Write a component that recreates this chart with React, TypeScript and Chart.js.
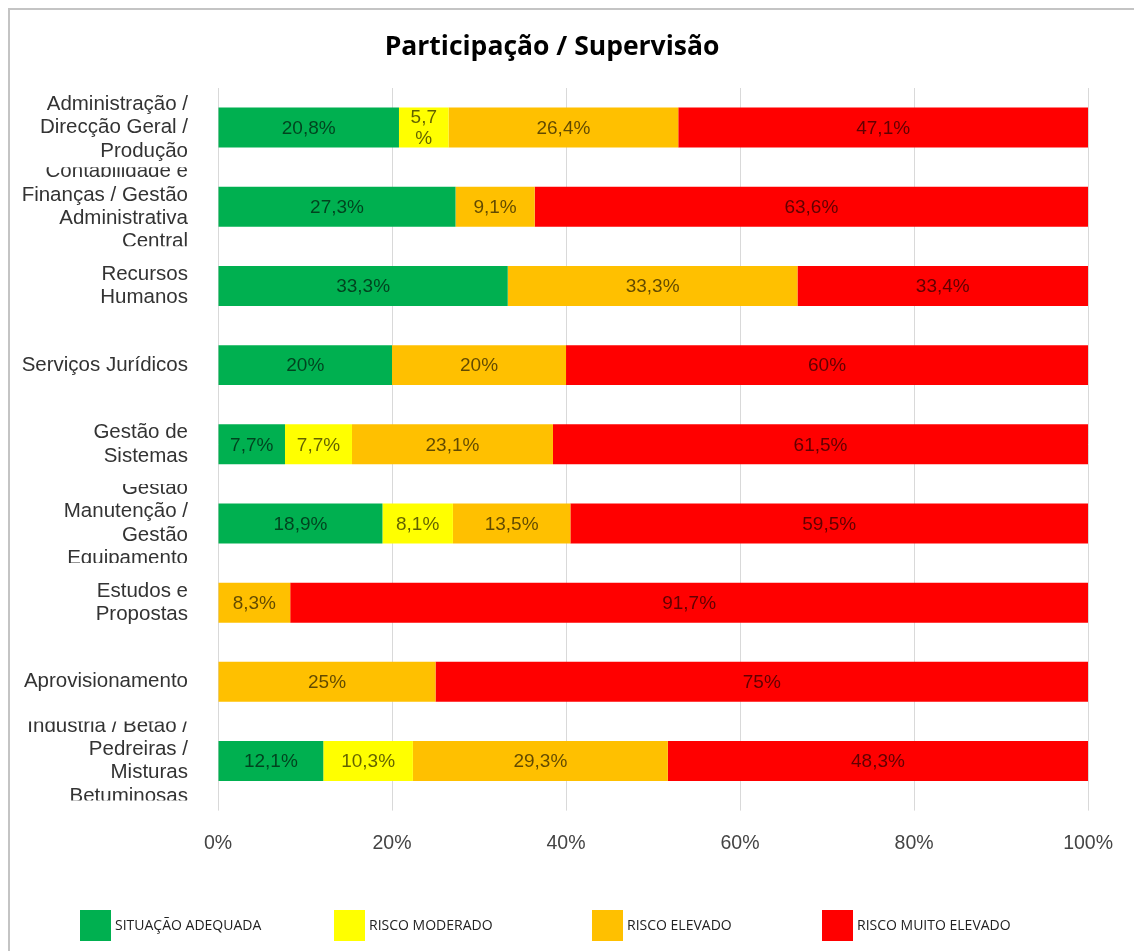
import React, { useEffect, useRef } from "react";
import { Chart, registerables } from "chart.js";

Chart.register(...registerables);

const chartTitle = "Participação / Supervisão";
const categoryLines: string[][] = [
  ["Administração /", "Direcção Geral /", "Produção"],
  ["Contabilidade e", "Finanças / Gestão", "Administrativa", "Central"],
  ["Recursos", "Humanos"],
  ["Serviços Jurídicos"],
  ["Gestão de", "Sistemas"],
  ["Gestão", "Manutenção /", "Gestão", "Equipamento"],
  ["Estudos e", "Propostas"],
  ["Aprovisionamento"],
  ["Industria / Betão /", "Pedreiras /", "Misturas", "Betuminosas"],
];
const seriesNames = ["SITUAÇÃO ADEQUADA", "RISCO MODERADO", "RISCO ELEVADO", "RISCO MUITO ELEVADO"];
const seriesColors = ["#00b050", "#ffff00", "#ffc000", "#ff0000"];
const adequada = [20.8, 27.3, 33.3, 20, 7.7, 18.9, null, null, 12.1];
const moderado = [5.7, null, null, null, 7.7, 8.1, null, null, 10.3];
const elevado = [26.4, 9.1, 33.3, 20, 23.1, 13.5, 8.3, 25, 29.3];
const muitoElevado = [47.1, 63.6, 33.4, 60, 61.5, 59.5, 91.7, 75, 48.3];
const legendX = [70, 324, 582, 812];

const fmt = (v: number) => String(v).replace(".", ",") + "%";

export default function App() {
  const ref = useRef<HTMLCanvasElement>(null);
  useEffect(() => {
    if (!ref.current) return;
    const drawPlugin = {
      id: "custom",
      afterDatasetsDraw(chart: any) {
        const ctx = chart.ctx;
        const area = chart.chartArea;
        // data labels
        ctx.save();
        ctx.font = "19px 'Liberation Sans', Arial, sans-serif";
        ctx.fillStyle = "rgba(0,0,0,0.62)";
        ctx.textAlign = "center";
        ctx.textBaseline = "middle";
        chart.data.datasets.forEach((ds: any, di: number) => {
          const meta = chart.getDatasetMeta(di);
          meta.data.forEach((el: any, i: number) => {
            const v = ds.data[i];
            if (v == null) return;
            const cx = (el.x + el.base) / 2;
            const w = Math.abs(el.x - el.base);
            const t = fmt(v);
            if (ctx.measureText(t).width > w - 8) {
              const num = t.replace("%", "");
              ctx.fillText(num, cx, el.y - 10);
              ctx.fillText("%", cx, el.y + 11);
            } else {
              ctx.fillText(t, cx, el.y + 1);
            }
          });
        });
        ctx.restore();
        // category labels
        const ys = chart.scales.y;
        const half = (ys.getPixelForValue(1) - ys.getPixelForValue(0)) / 2;
        categoryLines.forEach((lines, i) => {
          const cy = ys.getPixelForValue(i);
          ctx.save();
          ctx.beginPath();
          ctx.rect(0, cy - half, area.left, half * 2);
          ctx.clip();
          ctx.font = "20.5px 'Liberation Sans', Arial, sans-serif";
          ctx.fillStyle = "#333333";
          ctx.textAlign = "right";
          ctx.textBaseline = "middle";
          const lh = 23.3;
          lines.forEach((ln, k) => {
            const y = cy + (k - (lines.length - 1) / 2) * lh;
            ctx.fillText(ln, 178, y);
          });
          ctx.restore();
        });
        // title
        ctx.save();
        ctx.font = "bold 26.5px 'Open Sans', sans-serif";
        ctx.fillStyle = "#000";
        ctx.textAlign = "center";
        ctx.textBaseline = "middle";
        ctx.fillText(chartTitle, 542, 37);
        ctx.restore();
        // legend
        ctx.save();
        seriesNames.forEach((name, i) => {
          ctx.fillStyle = seriesColors[i];
          ctx.fillRect(legendX[i], 900, 31, 31);
          ctx.font = "14px 'Open Sans', sans-serif";
          ctx.fillStyle = "#222";
          ctx.textAlign = "left";
          ctx.textBaseline = "middle";
          ctx.fillText(name, legendX[i] + 35, 916);
        });
        ctx.restore();
      },
    };
    const chart = new Chart(ref.current, {
      type: "bar",
      data: {
        labels: categoryLines.map((l) => l.join(" ")),
        datasets: [adequada, moderado, elevado, muitoElevado].map((d, i) => ({
          label: seriesNames[i],
          data: d as any,
          backgroundColor: seriesColors[i],
          borderWidth: 0,
          categoryPercentage: 1,
          barPercentage: 0.505,
        })),
      },
      options: {
        indexAxis: "y",
        animation: false,
        responsive: false,
        maintainAspectRatio: false,
        layout: { padding: { left: 208, right: 36, top: 78, bottom: 75 } },
        plugins: { legend: { display: false }, title: { display: false }, tooltip: { enabled: false } },
        scales: {
          x: {
            stacked: true,
            min: 0,
            max: 100,
            border: { display: false },
            grid: { color: "#d9d9d9", tickLength: 10, lineWidth: 1 },
            ticks: {
              stepSize: 20,
              padding: 21,
              color: "#444",
              font: { family: "'Liberation Sans', Arial, sans-serif", size: 19.5 },
              callback: (v: any) => v + "%",
            },
          },
          y: { stacked: true, display: false },
        },
      },
      plugins: [drawPlugin],
    });
    return () => chart.destroy();
  }, []);
  return (
    <div
      style={{
        position: "absolute",
        left: 8,
        top: 8,
        width: 1126,
        height: 943,
        borderLeft: "2px solid #c4c4c4",
        borderTop: "2px solid #c4c4c4",
        boxSizing: "border-box",
        background: "#fff",
      }}
    >
      <canvas ref={ref} width={1124} height={941} style={{ display: "block" }} />
    </div>
  );
}
